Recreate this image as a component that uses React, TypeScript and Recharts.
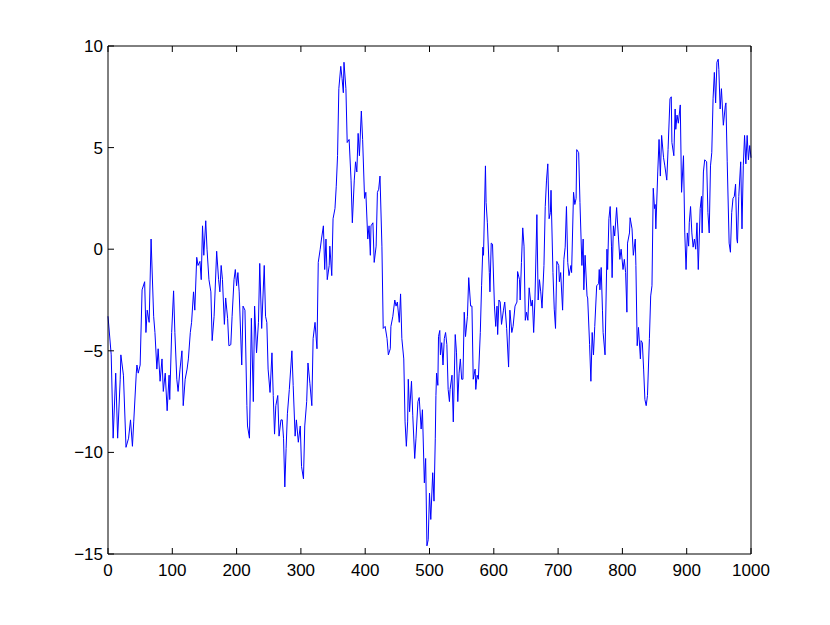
import React from 'react';
import { LineChart, Line, XAxis, YAxis } from 'recharts';

const tValues = [
  0, 5, 8, 12, 15, 19, 20, 24, 28, 32, 35, 38, 40, 44, 45, 47, 50, 53, 57, 59, 61, 64, 67, 71, 73, 76, 78, 81, 84, 86, 89, 92, 95, 96, 99, 102, 104, 107, 109, 112, 115, 117, 120, 123, 125, 128,
  130, 133, 135, 138, 140, 143, 145, 147, 149, 152, 154, 157, 160, 162, 165, 169, 172, 174, 176, 178, 181, 183, 186, 188, 191, 193, 196, 198, 200, 202, 204, 208, 210, 213, 216, 217, 220, 223, 226, 228, 231, 234, 236, 239, 243, 245,
  247, 249, 252, 255, 257, 259, 261, 264, 266, 269, 271, 273, 275, 277, 279, 282, 286, 288, 291, 293, 296, 299, 301, 304, 306, 309, 311, 314, 317, 319, 322, 325, 327, 330, 332, 335, 337, 339, 341, 344, 345, 348, 350, 353, 355, 357, 359, 362, 364, 366, 367, 370, 372, 375,
  378, 380, 383, 385, 387, 389, 391, 394, 396, 399, 401, 404, 406, 408, 409, 412, 414, 417, 419, 421, 423, 426, 428, 431, 434, 436, 439, 440, 443, 446, 448, 450, 453, 455, 457, 460, 462, 464, 466, 467, 469, 472, 474, 477, 479, 482, 484, 487, 489, 492, 494, 496, 498, 500,
  502, 505, 507, 509, 510, 511, 513, 514, 516, 517, 519, 521, 523, 525, 527, 529, 531, 532, 535, 537, 539, 540, 542, 544, 546, 548, 550, 552, 554, 556, 559, 561, 564, 566, 568, 571, 572, 574, 576, 579, 581, 583, 584, 587, 588, 590, 593, 594, 596, 598, 601, 603, 605, 606, 608, 610, 612, 615, 617, 620, 623, 625,
  628, 630, 633, 636, 637, 640, 641, 643, 645, 647, 649, 651, 653, 655, 658, 660, 662, 664, 667, 669, 671, 673, 675, 678, 680, 682, 684, 686, 688, 689, 692, 694, 696, 698, 701, 702, 704, 707, 709, 711, 713, 715, 717, 720, 721, 724, 726, 728, 729, 732, 734, 737, 739, 740, 742, 745, 746, 749,
  751, 753, 755, 757, 760, 763, 764, 765, 767, 769, 770, 773, 776, 777, 779, 781, 783, 784, 786, 788, 791, 794, 796, 798, 801, 803, 805, 807, 808, 811, 812, 815, 817, 820, 821, 823, 825, 828, 829, 831, 833, 835, 837, 839, 842, 844, 846, 848, 850, 851, 852, 855, 857, 859, 861, 864, 866, 869, 871,
  874, 876, 877, 880, 882, 883, 885, 887, 890, 892, 895, 897, 899, 901, 903, 904, 906, 908, 910, 912, 914, 916, 918, 921, 923, 924, 926, 928, 931, 933, 935, 937, 939, 941, 943, 945, 947, 949, 950, 952, 954, 957, 960, 961, 963, 966, 968, 970, 972, 974, 976, 978, 979, 981, 984, 986, 988, 990, 992, 994, 996, 998, 1000,
];

const walkValues = [
  -3.3, -5.2, -9.3, -6.1, -9.3, -6.4, -5.2, -6.2, -9.75, -9.3, -8.4, -9.7, -8.5, -6.1, -5.7, -6.1, -5.7, -2.0, -1.6, -4.1, -3.0, -3.6, 0.5, -3.3, -4.1, -5.9, -4.9, -6.5, -5.4, -7.0, -6.1, -7.95, -6.2, -7.4, -4.1, -2.05, -4.1, -6.4, -7.0, -5.9, -5.0, -7.7, -6.4, -5.9, -5.4, -4.1,
  -3.6, -2.1, -3.0, -0.4, -0.8, -0.6, -1.5, 1.15, -0.3, 1.4, 0, -1.5, -2.1, -4.5, -3.3, -0.1, -1.5, -2.1, -0.8, -1.5, -3.7, -2.4, -3.4, -4.75, -4.7, -3.3, -1.5, -1.0, -1.8, -1.15, -2.1, -5.7, -2.8, -3.0, -7.7, -8.7, -9.3, -3.4, -7.5, -2.8, -5.1, -3.6, -0.7, -3.9, -0.8, -3.3,
  -3.6, -5.9, -7.05, -5.1, -7.2, -9.1, -7.7, -7.2, -9.2, -8.4, -8.4, -9.3, -11.7, -9.8, -8.1, -6.9, -5.0, -6.7, -9.2, -8.4, -9.5, -8.7, -10.7, -11.3, -8.7, -7.5, -5.6, -6.6, -7.7, -4.4, -3.6, -4.9, -0.65, 0, 0.5, 1.15, -1.0, 0.5, -1.5, -0.8, 0.15, -1.3, 1.5, 2.0, 3.1, 4.6, 7.9, 9.0, 8.4, 7.7, 9.2, 7.9, 5.25, 5.4,
  3.4, 1.3, 3.4, 4.3, 3.8, 5.7, 4.6, 6.8, 5.4, 2.5, 2.8, 0.5, 1.15, -0.3, 1.15, 1.3, -0.65, 0.15, 2.8, 2.95, 3.6, 0.15, -3.9, -3.8, -4.4, -5.2, -4.9, -3.8, -3.3, -2.5, -2.8, -2.6, -3.6, -2.2, -4.4, -5.4, -8.5, -9.7, -8.5, -6.4, -8.0, -6.5, -8.2, -10.3, -9.3, -7.5, -7.3, -8.85, -7.9, -11.5, -10.3, -14.6, -14.3, -12.0,
  -13.3, -11.0, -12.4, -9.3, -7.2, -6.1, -6.7, -4.3, -4.0, -5.2, -4.6, -5.7, -4.4, -4.1, -4.7, -6.9, -7.5, -6.9, -6.2, -8.5, -5.7, -4.2, -5.1, -7.5, -6.1, -5.4, -6.4, -6.4, -3.1, -4.3, -3.3, -1.4, -2.8, -2.8, -6.4, -5.9, -6.9, -6.2, -6.4, -4.1, -1.8, 0.1, -0.3, 4.1, 2.3, 1.3, -1.15, -2.1, 0.3, 0.25, -2.8, -3.8, -2.8, -4.2, -2.5, -2.6, -3.7, -3.0, -2.6, -3.9, -5.8, -3.0,
  -4.1, -3.8, -2.8, -2.6, -1.1, -1.5, -2.5, -0.65, 1.05, 0.15, -3.5, -3.1, -3.5, -1.9, -2.8, -2.5, -4.1, -2.5, 1.7, -2.5, -1.5, -2.1, -2.9, -0.8, 2.1, 3.4, 4.2, 1.5, 1.8, 2.9, -1.15, -2.95, -3.9, -0.6, -0.8, -1.6, -1.15, -3.0, -0.5, 0.1, 2.1, -0.65, -1.3, -0.8, -1.15, 2.8, 2.2, 2.5, 4.9, 4.75, 2.3, -0.8, 0.5, -2.0, -0.3, -2.3, -2.4, -4.7,
  -6.5, -4.1, -5.2, -3.8, -1.8, -1.7, -1.0, -2.0, -0.9, -3.0, -4.1, -5.2, 0, -1.0, 1.5, 2.1, 0.15, -1.4, 1.15, 0.65, 2.05, 0.5, -0.5, 0, -1.0, -0.5, -1.15, -3.1, 0.3, 0.8, 1.55, 1.0, -0.3, 0.5, -0.8, -4.75, -3.85, -5.4, -4.5, -4.6, -5.9, -7.4, -7.7, -7.2, -4.4, -2.3, -1.8, 3.0, 2.0, 2.2, 1.0, 3.8, 5.4, 3.6, 5.6, 4.5, 4.1, 3.4, 4.9,
  7.4, 7.5, 5.25, 4.6, 6.9, 5.9, 6.6, 6.2, 7.1, 2.8, 4.6, 0.8, -1.0, 0.8, 0.15, 1.3, 2.1, 0.8, 0.1, 0.5, 0, 1.3, -1.0, 2.0, 2.6, 0.8, 3.8, 4.4, 4.3, 1.8, 0.8, 4.1, 4.75, 7.4, 8.7, 7.2, 9.2, 9.35, 8.85, 6.9, 7.9, 6.1, 7.05, 7.2, 4.3, 0.3, -0.15, 1.8, 2.5, 2.6, 3.2, 0.5, 0.3, 2.6, 4.3, 1.0, 4.1, 5.6, 4.2, 5.6, 4.4, 5.1, 4.5,
];

const xTicks = [0, 100, 200, 300, 400, 500, 600, 700, 800, 900, 1000];
const yTicks = [-15, -10, -5, 0, 5, 10];

const data = tValues.map((t, i) => ({ t, v: walkValues[i] }));

const FONT = '"Liberation Sans", Arial, Helvetica, sans-serif';
const fmt = (v: number) => String(v).replace('-', '\u2212');

const BottomTick = (props: any) => {
  const { x, y, payload } = props;
  return (
    <g>
      <line x1={x} y1={y} x2={x} y2={y - 6} stroke="#000" strokeWidth={1} />
      <text x={x} y={y + 22} textAnchor="middle" fontSize={17} fontFamily={FONT} fill="#000">
        {fmt(payload.value)}
      </text>
    </g>
  );
};

const TopTick = (props: any) => {
  const { x, y } = props;
  return <line x1={x} y1={y} x2={x} y2={y + 6} stroke="#000" strokeWidth={1} />;
};

const LeftTick = (props: any) => {
  const { x, y, payload } = props;
  return (
    <g>
      <line x1={x} y1={y} x2={x + 6} y2={y} stroke="#000" strokeWidth={1} />
      <text x={x - 5} y={y + 6} textAnchor="end" fontSize={17} fontFamily={FONT} fill="#000">
        {fmt(payload.value)}
      </text>
    </g>
  );
};

const RightTick = (props: any) => {
  const { x, y } = props;
  return <line x1={x} y1={y} x2={x - 6} y2={y} stroke="#000" strokeWidth={1} />;
};

export default function App() {
  return (
    <div style={{ position: 'absolute', left: 0, top: 0, width: 830, height: 625, background: '#fff' }}>
      <LineChart width={830} height={625} data={data} margin={{ top: 45, right: 78, bottom: 41, left: 48 }}>
        <XAxis
          dataKey="t"
          type="number"
          domain={[0, 1000]}
          ticks={xTicks}
          interval={0}
          tickSize={0}
          tickMargin={0}
          tickLine={false}
          height={30}
          axisLine={{ stroke: '#000' }}
          tick={<BottomTick />}
        />
        <XAxis
          xAxisId="top"
          dataKey="t"
          orientation="top"
          type="number"
          domain={[0, 1000]}
          ticks={xTicks}
          interval={0}
          tickSize={0}
          tickMargin={0}
          tickLine={false}
          height={1}
          axisLine={{ stroke: '#000' }}
          tick={<TopTick />}
        />
        <YAxis
          type="number"
          domain={[-15, 10]}
          ticks={yTicks}
          interval={0}
          tickSize={0}
          tickMargin={0}
          tickLine={false}
          width={60}
          axisLine={{ stroke: '#000' }}
          tick={<LeftTick />}
        />
        <YAxis
          yAxisId="right"
          orientation="right"
          type="number"
          domain={[-15, 10]}
          ticks={yTicks}
          interval={0}
          tickSize={0}
          tickMargin={0}
          tickLine={false}
          width={1}
          axisLine={{ stroke: '#000' }}
          tick={<RightTick />}
        />
        <Line
          type="linear"
          dataKey="v"
          stroke="#0000ff"
          strokeWidth={1}
          dot={false}
          activeDot={false}
          isAnimationActive={false}
        />
      </LineChart>
    </div>
  );
}
